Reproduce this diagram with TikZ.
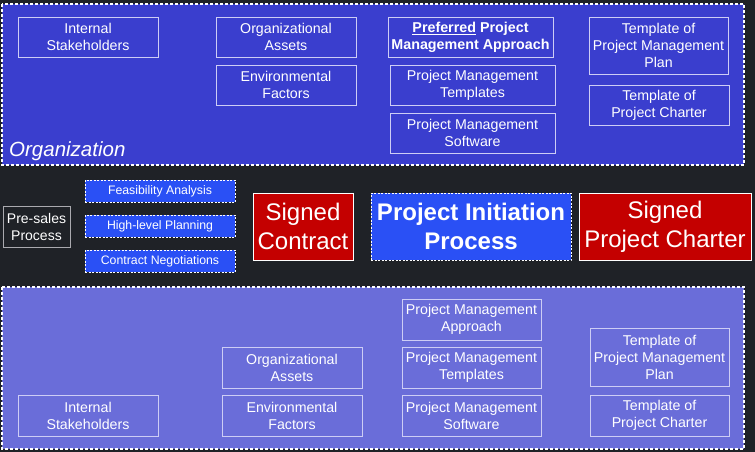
\documentclass[tikz,border=0pt]{standalone}
\usepackage{fontspec}
\setmainfont{Liberation Sans}
\definecolor{bg}{RGB}{31,34,39}
\definecolor{topfill}{RGB}{58,62,206}
\definecolor{botfill}{RGB}{106,109,217}
\definecolor{actfill}{RGB}{42,80,245}
\definecolor{redfill}{RGB}{196,0,0}
\definecolor{boxline}{RGB}{205,205,245}
\definecolor{grayline}{RGB}{170,170,175}
\tikzset{
  areabox/.style={draw=white, line width=1.2pt, dash pattern=on 3pt off 2pt},
  itembox/.style={draw=boxline, line width=0.8pt, text=white, align=center, inner sep=0pt,
    font=\fontsize{14.2}{17}\selectfont},
  actbox/.style={draw=white, line width=1pt, dash pattern=on 2pt off 1.5pt, fill=actfill,
    text=white, align=center, inner sep=0pt, minimum width=150pt, minimum height=22pt,
    font=\fontsize{12.3}{15}\selectfont},
  redbox/.style={draw=white, line width=1pt, fill=redfill, text=white, align=center,
    inner sep=0pt, minimum height=67pt, font=\fontsize{24}{29}\selectfont},
}
\begin{document}
\begin{tikzpicture}[x=1pt,y=-1pt]
\fill[bg] (0,0) rectangle (755,452);
\useasboundingbox (0,0) rectangle (755,452);
% areas
\draw[areabox, fill=topfill] (2,4) rectangle (744,165);
\draw[areabox, fill=botfill] (2,287) rectangle (744,449);
\node[anchor=base west, inner sep=0pt, text=white, font=\fontsize{20.5}{24}\selectfont\itshape] (org) at (9,156) {Organization};
% top items
\node[itembox, minimum width=140pt, minimum height=40pt] (is1) at (88,37) {Internal\\Stakeholders};
\node[itembox, minimum width=140pt, minimum height=40pt] (oa1) at (286,37) {Organizational\\Assets};
\node[itembox, minimum width=140pt, minimum height=40pt] (ef1) at (286,85) {Environmental\\Factors};
\node[itembox, minimum width=165pt, minimum height=40pt, font=\fontsize{14.3}{17}\selectfont\bfseries] (ppa) at (470.5,37) {\underline{Preferred} Project\\Management Approach};
\node[itembox, minimum width=165pt, minimum height=40pt] (pmt1) at (472.5,85) {Project Management\\Templates};
\node[itembox, minimum width=165pt, minimum height=40pt] (pms1) at (472.5,133) {Project Management\\Software};
\node[itembox, minimum width=139pt, minimum height=57pt] (tpp1) at (658.5,45.5) {Template of\\Project Management\\Plan};
\node[itembox, minimum width=140pt, minimum height=40pt] (tpc1) at (659,105) {Template of\\Project Charter};
% middle
\node[itembox, draw=grayline, minimum width=67pt, minimum height=41pt, font=\fontsize{14}{17}\selectfont] (pre) at (36.5,226.5) {Pre-sales\\Process};
\node[actbox] (fa) at (160,191) {Feasibility Analysis};
\node[actbox] (hlp) at (160,226) {High-level Planning};
\node[actbox] (cn) at (160,261) {Contract Negotiations};
\node[redbox, minimum width=100pt] (sc) at (303,226.5) {Signed\\Contract};
\node[draw=white, line width=1pt, dash pattern=on 2pt off 1.5pt, fill=actfill, text=white, align=center, inner sep=0pt, minimum width=200pt, minimum height=67pt, font=\fontsize{24}{29}\selectfont\bfseries] (pip) at (471,226.5) {Project Initiation\\Process};
\node[redbox, minimum width=172pt] (spc) at (665,226.5) {Signed\\Project Charter};
% bottom items
\node[itembox, minimum width=140pt, minimum height=41pt] (oa2) at (292,367.5) {Organizational\\Assets};
\node[itembox, minimum width=140pt, minimum height=41pt] (ef2) at (292,415.5) {Environmental\\Factors};
\node[itembox, minimum width=140pt, minimum height=41pt] (is2) at (88,415.5) {Internal\\Stakeholders};
\node[itembox, minimum width=139pt, minimum height=41pt] (pma2) at (471.5,319.5) {Project Management\\Approach};
\node[itembox, minimum width=139pt, minimum height=41pt] (pmt2) at (471.5,367.5) {Project Management\\Templates};
\node[itembox, minimum width=139pt, minimum height=41pt] (pms2) at (471.5,415.5) {Project Management\\Software};
\node[itembox, minimum width=139pt, minimum height=58pt] (tpp2) at (659.5,357) {Template of\\Project Management\\Plan};
\node[itembox, minimum width=139pt, minimum height=41pt] (tpc2) at (659.5,415.5) {Template of\\Project Charter};
\end{tikzpicture}
\end{document}
